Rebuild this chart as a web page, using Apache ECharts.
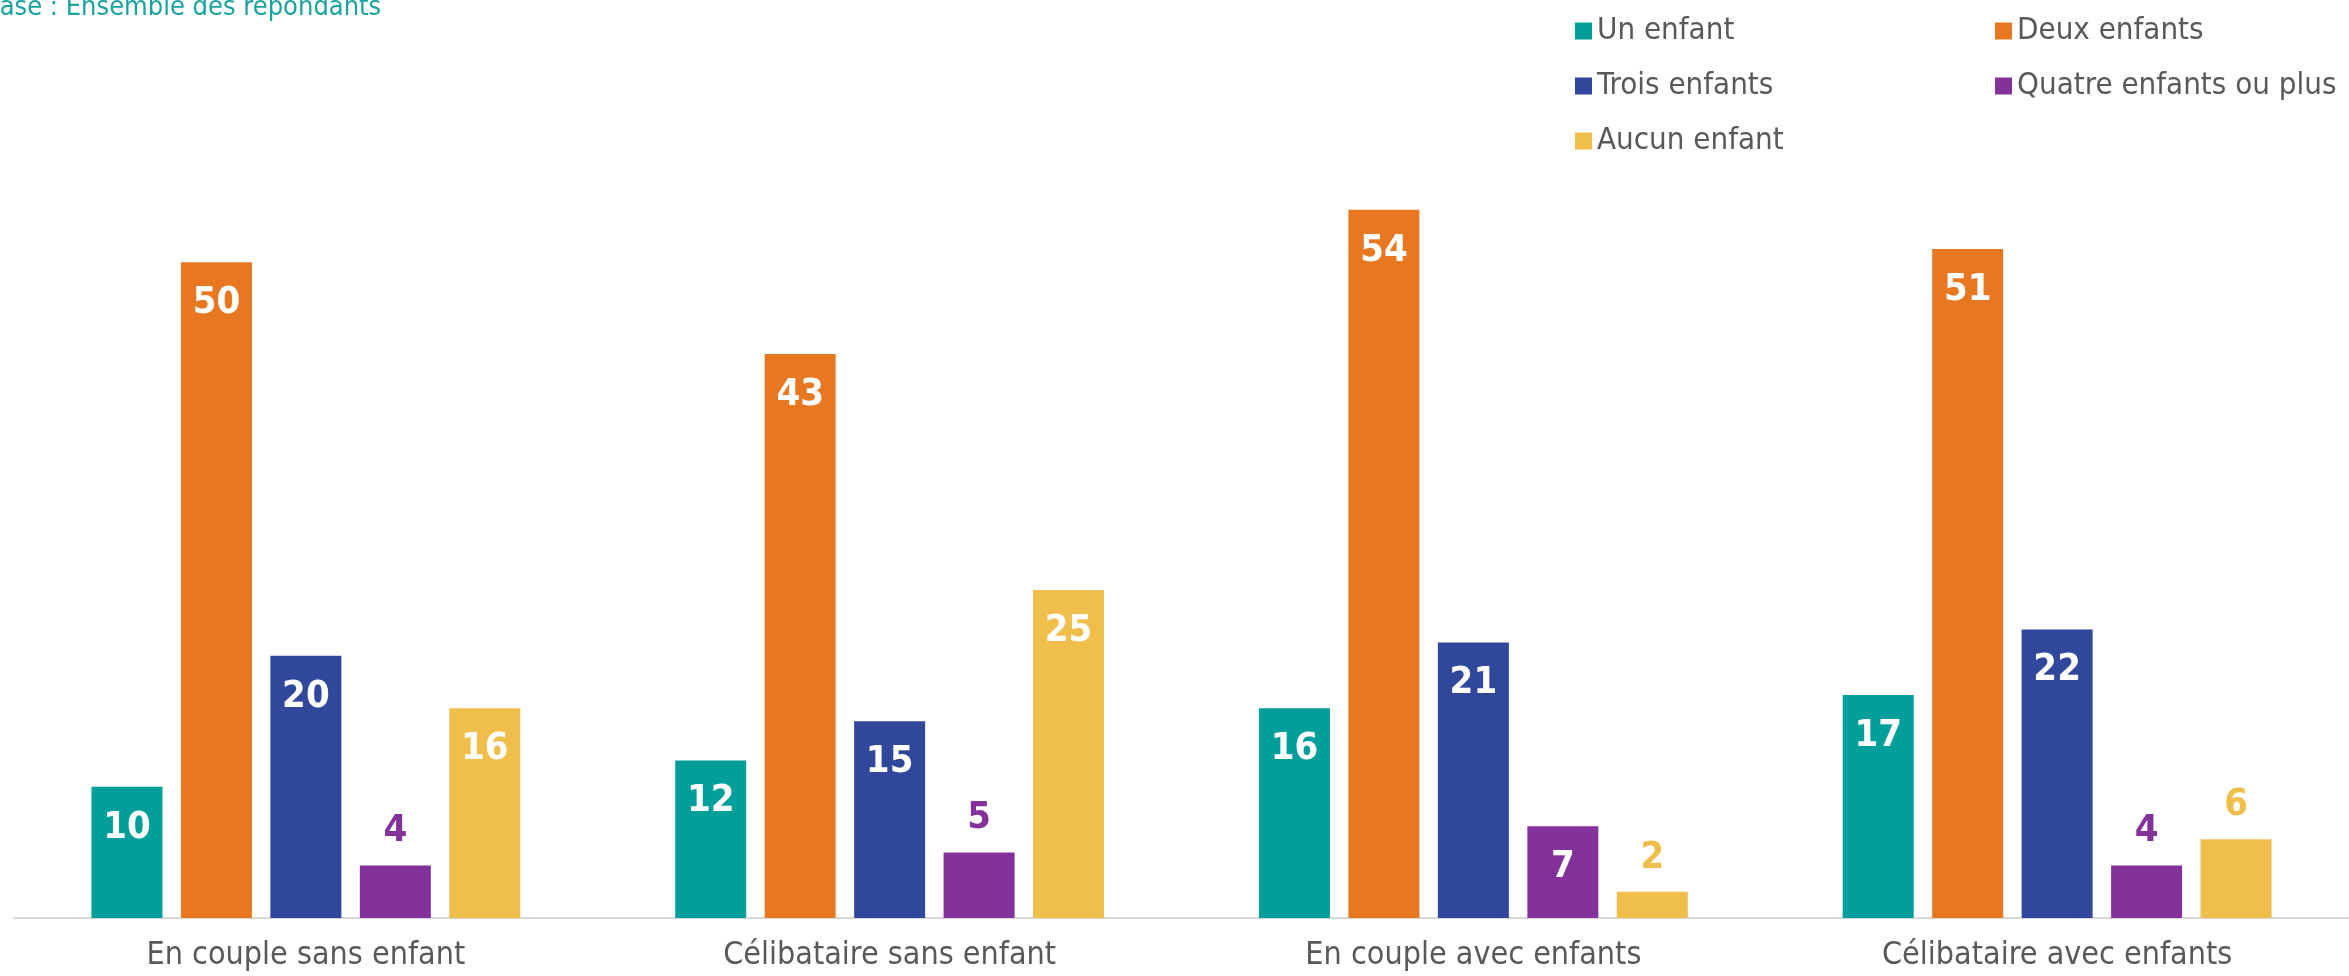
<!DOCTYPE html>
<html>
<head>
<meta charset="utf-8">
<script src="https://cdn.jsdelivr.net/npm/echarts@6/dist/echarts.min.js"></script>
<style>
  html, body { margin: 0; padding: 0; background: #fff; }
  #chart { width: 2349px; height: 976px; }
</style>
</head>
<body>
<div id="chart"></div>
<script>
// categories and series
const categories = ['En couple sans enfant', 'Célibataire sans enfant', 'En couple avec enfants', 'Célibataire avec enfants'];
const unEnfant = [10, 12, 16, 17];
const deuxEnfants = [50, 43, 54, 51];
const troisEnfants = [20, 15, 21, 22];
const quatreEnfants = [4, 5, 7, 4];
const aucunEnfant = [16, 25, 2, 6];
const seriesNames = ['Un enfant', 'Deux enfants', 'Trois enfants', 'Quatre enfants ou plus', 'Aucun enfant'];
const colors = ['#029F9A', '#E87722', '#30479B', '#84329B', '#F0BE4B'];

const FONT = "'DejaVu Sans Condensed', 'Liberation Sans Narrow', Roboto, sans-serif";

const chart = echarts.init(document.getElementById('chart'));

// small values get their label above the bar, in the bar colour
function buildData(vals, color) {
    return vals.map(v => {
        if (v >= 7) return v;
        return { value: v, label: { position: 'top', distance: 15, color: color } };
    });
}

const allData = [unEnfant, deuxEnfants, troisEnfants, quatreEnfants, aucunEnfant];

const series = seriesNames.map((name, i) => ({
    name: name,
    type: 'bar',
    barWidth: 71,
    barGap: '26%',
    itemStyle: { color: colors[i] },
    label: {
        show: true,
        position: 'insideTop',
        distance: 22,
        color: '#fff',
        fontFamily: FONT,
        fontWeight: 'bold',
        fontSize: 38
    },
    data: buildData(allData[i], colors[i])
}));

const legendText = { color: '#595959', fontFamily: FONT, fontSize: 31, lineHeight: 40 };

const option = {
    animation: false,
    color: colors,
    graphic: [{
        type: 'text',
        x: -17,
        y: 8,
        style: {
            text: 'Base : Ensemble des répondants',
            fill: '#1AA39E',
            fontFamily: FONT,
            fontSize: 27,
            verticalAlign: 'middle'
        }
    }],
    legend: [
        {
            data: ['Un enfant', 'Trois enfants', 'Aucun enfant'],
            orient: 'vertical',
            left: 1570,
            top: 6,
            itemWidth: 17,
            itemHeight: 17,
            itemGap: 15,
            icon: 'rect',
            textStyle: legendText
        },
        {
            data: ['Deux enfants', 'Quatre enfants ou plus'],
            orient: 'vertical',
            left: 1990,
            top: 6,
            itemWidth: 17,
            itemHeight: 17,
            itemGap: 15,
            icon: 'rect',
            textStyle: legendText
        }
    ],
    grid: {
        left: 14,
        right: 0,
        top: 131,
        bottom: 58,
        containLabel: false
    },
    xAxis: {
        type: 'category',
        data: categories,
        axisLine: { lineStyle: { color: '#d9d9d9', width: 2 } },
        axisTick: { show: false },
        axisLabel: {
            color: '#595959',
            fontFamily: FONT,
            fontSize: 32,
            margin: 22
        }
    },
    yAxis: {
        type: 'value',
        min: 0,
        max: 60,
        show: false,
        splitLine: { show: false }
    },
    series: series
};

chart.setOption(option);
</script>
</body>
</html>
